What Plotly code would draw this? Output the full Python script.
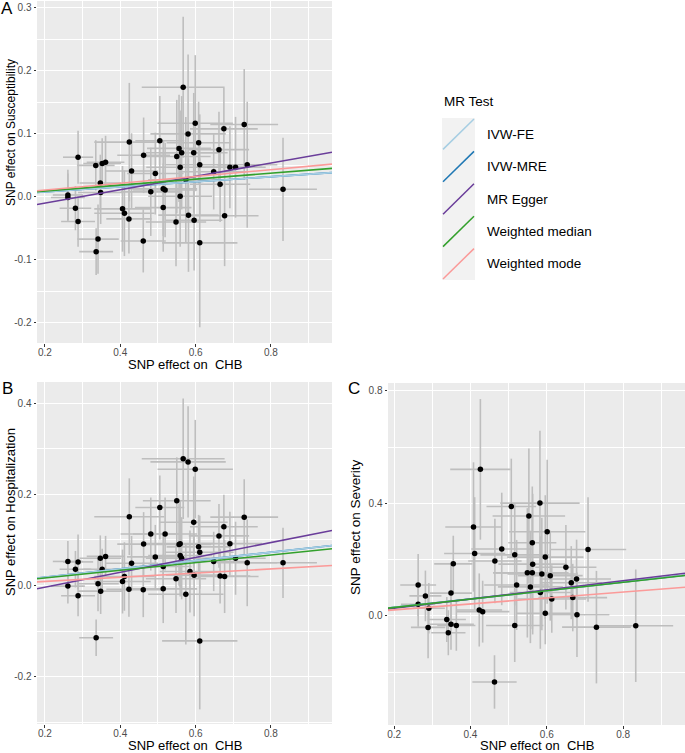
import plotly.graph_objects as go

W, H = 685, 753

# ---------------- data ----------------
methods = ["IVW-FE", "IVW-MRE", "MR Egger", "Weighted median", "Weighted mode"]
method_colors = ["#A6CEE3", "#1F78B4", "#6A3D9A", "#33A02C", "#FB9A99"]

# Panel A: Susceptibility
a_x = [0.261, 0.261, 0.281, 0.288, 0.288, 0.335, 0.336, 0.341, 0.347, 0.348, 0.352, 0.361,
       0.406, 0.411, 0.423, 0.424, 0.430, 0.461, 0.462, 0.481, 0.493, 0.505, 0.514, 0.514,
       0.519, 0.548, 0.550, 0.556, 0.559, 0.559, 0.563, 0.567, 0.574, 0.580, 0.581, 0.595,
       0.596, 0.599, 0.608, 0.611, 0.611, 0.648, 0.662, 0.665, 0.675, 0.677, 0.691, 0.706,
       0.729, 0.737, 0.832]
a_y = [0.003, -0.001, -0.018, 0.063, -0.039, 0.050, -0.087, -0.067, 0.022, 0.007, 0.053, 0.055,
       -0.019, -0.026, -0.035, 0.087, 0.041, -0.070, 0.066, 0.008, 0.037, 0.089, 0.013, -0.017,
       0.011, -0.040, 0.064, 0.077, 0.047, 0.001, 0.070, 0.174, 0.027, 0.100, -0.029, 0.070,
       -0.037, 0.117, 0.086, 0.051, -0.073, 0.040, 0.075, 0.020, 0.108, -0.030, 0.047, 0.047,
       0.115, 0.051, 0.012]
a_xerr = [0.040, 0.045, 0.042, 0.040, 0.045, 0.050, 0.045, 0.055, 0.055, 0.060, 0.050, 0.050,
          0.075, 0.080, 0.060, 0.093, 0.070, 0.060, 0.070, 0.080, 0.075, 0.065, 0.090, 0.075,
          0.085, 0.080, 0.090, 0.085, 0.090, 0.085, 0.095, 0.110, 0.100, 0.100, 0.080, 0.090,
          0.075, 0.100, 0.085, 0.090, 0.100, 0.085, 0.080, 0.080, 0.090, 0.090, 0.085, 0.080,
          0.090, 0.080, 0.090]
a_yerr = [0.040, 0.038, 0.035, 0.042, 0.040, 0.040, 0.037, 0.055, 0.045, 0.050, 0.040, 0.042,
          0.068, 0.068, 0.055, 0.094, 0.060, 0.050, 0.060, 0.070, 0.065, 0.071, 0.075, 0.070,
          0.075, 0.070, 0.090, 0.085, 0.090, 0.080, 0.090, 0.112, 0.100, 0.126, 0.090, 0.095,
          0.080, 0.108, 0.065, 0.080, 0.134, 0.060, 0.060, 0.060, 0.065, 0.080, 0.065, 0.080,
          0.088, 0.100, 0.082]
a_slope = [0.040, 0.040, 0.106, 0.047, 0.054]
a_icpt = [0.0, 0.0, -0.031, 0.0, 0.0]

# Panel B: Hospitalization
b_x = [0.261, 0.261, 0.281, 0.288, 0.288, 0.336, 0.341, 0.347, 0.348, 0.352, 0.361, 0.406,
       0.411, 0.423, 0.424, 0.430, 0.461, 0.462, 0.481, 0.493, 0.505, 0.514, 0.514, 0.519,
       0.548, 0.550, 0.556, 0.559, 0.559, 0.563, 0.567, 0.574, 0.580, 0.585, 0.595, 0.596,
       0.599, 0.608, 0.611, 0.611, 0.648, 0.662, 0.665, 0.675, 0.677, 0.691, 0.706, 0.729,
       0.737, 0.832]
b_y = [0.053, -0.001, 0.036, 0.052, -0.022, -0.114, 0.004, 0.060, -0.012, 0.036, 0.064, 0.009,
       0.020, -0.008, 0.151, 0.049, -0.009, 0.091, 0.113, 0.063, 0.171, -0.007, 0.042, 0.113,
       0.015, 0.186, 0.090, 0.092, 0.066, 0.060, 0.278, -0.019, 0.271, 0.031, 0.139, 0.023,
       0.255, 0.085, 0.073, -0.121, 0.053, 0.109, 0.021, 0.129, 0.020, 0.092, 0.060, 0.150,
       0.050, 0.050]
b_xerr = [0.040, 0.045, 0.042, 0.040, 0.045, 0.045, 0.055, 0.055, 0.060, 0.050, 0.050, 0.075,
          0.080, 0.060, 0.093, 0.070, 0.060, 0.070, 0.080, 0.075, 0.065, 0.090, 0.075, 0.085,
          0.080, 0.090, 0.085, 0.090, 0.085, 0.095, 0.110, 0.100, 0.100, 0.080, 0.090, 0.075,
          0.100, 0.085, 0.090, 0.100, 0.085, 0.080, 0.080, 0.090, 0.090, 0.085, 0.080, 0.090,
          0.080, 0.090]
b_yerr = [0.045, 0.038, 0.040, 0.060, 0.045, 0.040, 0.060, 0.050, 0.050, 0.045, 0.045, 0.070,
          0.075, 0.060, 0.084, 0.060, 0.060, 0.070, 0.080, 0.070, 0.070, 0.075, 0.070, 0.080,
          0.075, 0.095, 0.090, 0.095, 0.090, 0.090, 0.132, 0.110, 0.122, 0.090, 0.100, 0.090,
          0.108, 0.070, 0.080, 0.150, 0.065, 0.070, 0.060, 0.070, 0.080, 0.070, 0.080, 0.083,
          0.095, 0.077]
b_slope = [0.0915, 0.0915, 0.163, 0.084, 0.0457]
b_icpt = [0.0, 0.0, -0.036, 0.0, 0.0]

# Panel C: Severity
c_x = [0.263, 0.263, 0.282, 0.289, 0.291, 0.338, 0.342, 0.349, 0.349, 0.355, 0.363, 0.408,
       0.411, 0.423, 0.426, 0.432, 0.463, 0.464, 0.482, 0.507, 0.516, 0.516, 0.521, 0.549,
       0.553, 0.557, 0.562, 0.562, 0.563, 0.582, 0.583, 0.587, 0.596, 0.596, 0.601, 0.609,
       0.613, 0.650, 0.664, 0.668, 0.678, 0.679, 0.708, 0.730, 0.833]
c_y = [0.110, 0.041, 0.071, -0.041, 0.027, -0.013, -0.060, 0.081, -0.030, 0.185, -0.034, 0.316,
       0.222, 0.021, 0.521, 0.015, -0.235, 0.195, 0.238, 0.389, 0.217, -0.034, 0.110, 0.153,
       0.355, 0.103, 0.260, 0.153, 0.184, 0.401, 0.083, 0.149, 0.209, 0.009, 0.299, 0.143,
       0.060, 0.173, 0.118, 0.065, 0.131, 0.004, 0.236, -0.040, -0.035]
c_xerr = [0.047, 0.045, 0.042, 0.045, 0.042, 0.050, 0.045, 0.055, 0.060, 0.050, 0.050, 0.074,
          0.080, 0.060, 0.079, 0.070, 0.058, 0.070, 0.080, 0.065, 0.090, 0.075, 0.085, 0.090,
          0.095, 0.085, 0.063, 0.095, 0.090, 0.104, 0.080, 0.090, 0.100, 0.075, 0.100, 0.085,
          0.090, 0.080, 0.080, 0.090, 0.090, 0.085, 0.100, 0.090, 0.098]
c_yerr = [0.110, 0.080, 0.090, 0.110, 0.090, 0.080, 0.080, 0.100, 0.090, 0.100, 0.090, 0.230,
          0.200, 0.130, 0.250, 0.110, 0.095, 0.150, 0.200, 0.170, 0.180, 0.130, 0.160, 0.230,
          0.240, 0.200, 0.200, 0.200, 0.250, 0.257, 0.200, 0.200, 0.220, 0.110, 0.256, 0.160,
          0.120, 0.150, 0.130, 0.120, 0.140, 0.150, 0.186, 0.200, 0.200]
c_slope = [0.150, 0.150, 0.163, 0.149, 0.106]
c_icpt = [0.0, 0.0, -0.005, 0.0, 0.0]

x_ticks = [0.2, 0.4, 0.6, 0.8]
x_ticklabels = ["0.2", "0.4", "0.6", "0.8"]
a_yticks = [-0.2, -0.1, 0.0, 0.1, 0.2, 0.3]
a_yticklabels = ["-0.2", "-0.1", "0.0", "0.1", "0.2", "0.3"]
b_yticks = [-0.2, 0.0, 0.2, 0.4]
b_yticklabels = ["-0.2", "0.0", "0.2", "0.4"]
c_yticks = [0.0, 0.4, 0.8]
c_yticklabels = ["0.0", "0.4", "0.8"]

x_title = "SNP effect on  CHB"
y_titles = ["SNP effect on Susceptibility", "SNP effect on Hospitalization", "SNP effect on Severity"]
panel_letters = ["A", "B", "C"]
legend_title = "MR Test"

# ---------------- layout helpers ----------------
FONT = "Liberation Sans, Arial, sans-serif"

def fx(px):
    return px / W

def fy(py):
    return 1 - py / H

panels = [
    dict(x=a_x, y=a_y, xe=a_xerr, ye=a_yerr, slope=a_slope, icpt=a_icpt,
         xdom=(37, 332), ydom=(1, 343), xr=(0.179, 0.962), yr=(-0.232, 0.311),
         yt=a_yticks, ytl=a_yticklabels, yminor=[-0.15, -0.05, 0.05, 0.15, 0.25],
         ytitle=(11, 133, 12), xtitle_y=364, letter=(7, 9)),
    dict(x=b_x, y=b_y, xe=b_xerr, ye=b_yerr, slope=b_slope, icpt=b_icpt,
         xdom=(37, 332), ydom=(382, 724), xr=(0.179, 0.962), yr=(-0.303, 0.446),
         yt=b_yticks, ytl=b_yticklabels, yminor=[-0.3, -0.1, 0.1, 0.3],
         ytitle=(11, 512, 13), xtitle_y=745.5, letter=(7, 388)),
    dict(x=c_x, y=c_y, xe=c_xerr, ye=c_yerr, slope=c_slope, icpt=c_icpt,
         xdom=(388, 685), ydom=(383, 725), xr=(0.184, 0.962), yr=(-0.388, 0.828),
         yt=c_yticks, ytl=c_yticklabels, yminor=[-0.2, 0.2, 0.6],
         ytitle=(355, 527, 13.5), xtitle_y=745.5, letter=(354, 388)),
]

fig = go.Figure()
annotations = []
shapes = []

for i, p in enumerate(panels):
    sfx = "" if i == 0 else str(i + 1)
    xa, ya = "x" + sfx, "y" + sfx
    fig.add_trace(go.Scatter(
        x=p["x"], y=p["y"], mode="markers",
        marker=dict(color="black", size=5.5),
        error_x=dict(type="data", array=p["xe"], color="#BEBEBE", thickness=1.6, width=0),
        error_y=dict(type="data", array=p["ye"], color="#BEBEBE", thickness=1.6, width=0),
        xaxis=xa, yaxis=ya, showlegend=False, hoverinfo="skip"))
    order = [1, 0, 2, 3, 4]
    for k in order:
        xs = [p["xr"][0], p["xr"][1]]
        ys = [p["icpt"][k] + p["slope"][k] * v for v in xs]
        fig.add_trace(go.Scatter(
            x=xs, y=ys, mode="lines", line=dict(color=method_colors[k], width=1.6),
            xaxis=xa, yaxis=ya, showlegend=False, hoverinfo="skip", cliponaxis=True))

    axis_common = dict(
        showgrid=True, gridcolor="white", gridwidth=1.2, zeroline=False,
        ticks="outside", ticklen=2.5, tickwidth=1, tickcolor="#333333",
        tickfont=dict(family=FONT, size=10, color="#4D4D4D"),
        showline=False, automargin=False, fixedrange=True,
    )
    fig.layout["xaxis" + sfx] = dict(
        axis_common, domain=[fx(p["xdom"][0]), fx(p["xdom"][1])], range=list(p["xr"]),
        anchor=ya, tickmode="array", tickvals=x_ticks, ticktext=x_ticklabels,
        ticklabelstandoff=-3,
        minor=dict(tickmode="array", tickvals=[0.3, 0.5, 0.7, 0.9], showgrid=True,
                   gridcolor="white", gridwidth=0.6, ticks=""))
    fig.layout["yaxis" + sfx] = dict(
        axis_common, domain=[fy(p["ydom"][1]), fy(p["ydom"][0])], range=list(p["yr"]),
        anchor=xa, tickmode="array", tickvals=p["yt"], ticktext=p["ytl"],
        minor=dict(tickmode="array", tickvals=p["yminor"], showgrid=True,
                   gridcolor="white", gridwidth=0.6, ticks=""))

    # axis titles
    cx = (p["xdom"][0] + p["xdom"][1]) / 2
    annotations.append(dict(text=x_title, x=fx(cx), y=fy(p["xtitle_y"]), xref="paper", yref="paper",
                            showarrow=False, xanchor="center", yanchor="middle",
                            font=dict(family=FONT, size=13, color="black")))
    tx, ty, ts = p["ytitle"]
    annotations.append(dict(text=y_titles[i], x=fx(tx), y=fy(ty), xref="paper", yref="paper",
                            showarrow=False, xanchor="center", yanchor="middle", textangle=-90,
                            font=dict(family=FONT, size=ts, color="black")))
    annotations.append(dict(text=panel_letters[i], x=fx(p["letter"][0]), y=fy(p["letter"][1]),
                            xref="paper", yref="paper", showarrow=False,
                            xanchor="center", yanchor="middle",
                            font=dict(family=FONT, size=17, color="black")))

# ---------------- manual legend (ggplot-style keys) ----------------
leg_left, leg_right = 442, 475
leg_top, key_h = 118, 32.4
shapes.append(dict(type="rect", xref="paper", yref="paper",
                   x0=fx(leg_left), x1=fx(leg_right), y0=fy(leg_top + key_h * len(methods)), y1=fy(leg_top),
                   fillcolor="#F2F2F2", line=dict(width=0), layer="below"))
annotations.append(dict(text=legend_title, x=fx(leg_left), y=fy(101), xref="paper", yref="paper",
                        showarrow=False, xanchor="left", yanchor="middle",
                        font=dict(family=FONT, size=13.5, color="black")))
for k, m in enumerate(methods):
    top = leg_top + key_h * k
    bot = top + key_h
    shapes.append(dict(type="line", xref="paper", yref="paper",
                       x0=fx(leg_left + 1), y0=fy(bot - 1), x1=fx(leg_right - 1), y1=fy(top + 1),
                       line=dict(color=method_colors[k], width=1.5)))
    annotations.append(dict(text=m, x=fx(485), y=fy(top + key_h / 2), xref="paper", yref="paper",
                            showarrow=False, xanchor="left", yanchor="middle",
                            font=dict(family=FONT, size=13.5, color="black")))

fig.update_layout(
    template="none",
    width=W, height=H,
    margin=dict(l=0, r=0, t=0, b=0, pad=0),
    paper_bgcolor="white", plot_bgcolor="#EBEBEB",
    showlegend=False,
    annotations=annotations, shapes=shapes,
    font=dict(family=FONT),
)

fig.write_html("out.html", config={"displayModeBar": False},
               post_script="document.body.style.margin='0';document.body.style.padding='0';")
